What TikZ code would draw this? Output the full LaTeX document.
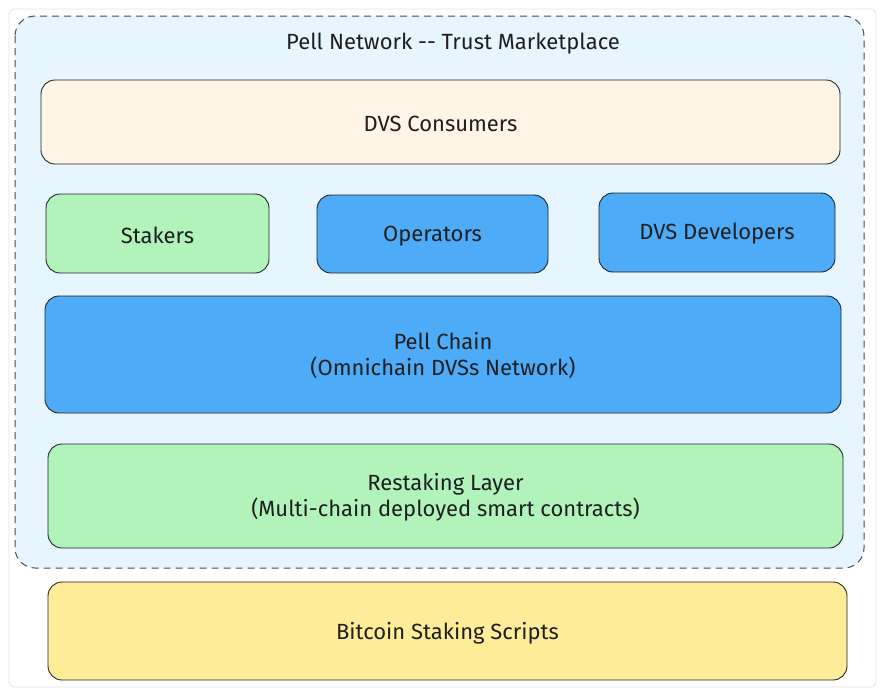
\documentclass[tikz,border=0pt]{standalone}
\usepackage{fontspec}
\setmainfont{Fira Sans}
\begin{document}
\begin{tikzpicture}[x=1pt,y=-1pt,
  box/.style={draw=black!85,line width=0.9pt,rounded corners=14pt},
  lbl/.style={font=\fontsize{22}{26}\selectfont,text=black!88,align=center,yshift=-2pt}]
\definecolor{cblue}{HTML}{4DABF7}
\definecolor{cgreen}{HTML}{B2F2BB}
\definecolor{cpeach}{HTML}{FFF4E6}
\definecolor{cyellow}{HTML}{FFEC99}
\definecolor{cbg}{HTML}{E7F5FF}
\useasboundingbox (0,0) rectangle (887,691);
\fill[white] (0,0) rectangle (887,691);
\draw[draw=black!10,line width=0.8pt,rounded corners=6pt,fill=white] (9,9) rectangle (876,687);
% container
\draw[draw=black!70,line width=1pt,dash pattern=on 7pt off 5pt,rounded corners=20pt,fill=cbg] (15,16) rectangle (864,568);
\node[lbl] (title) at (453,42) {Pell Network {-}{-} Trust Marketplace};
% boxes
\draw[box,fill=cpeach] (41,80) rectangle (840,164);
\node[lbl] (cons) at (440.5,122) {DVS Consumers};
\draw[box,fill=cgreen] (46,194) rectangle (269,273);
\node[lbl] (stak) at (157.5,233) {Stakers};
\draw[box,fill=cblue] (317,195) rectangle (548,273);
\node[lbl] (oper) at (432.5,234) {Operators};
\draw[box,fill=cblue] (599,193) rectangle (835,272);
\node[lbl] (dev) at (717,232) {DVS Developers};
\draw[box,fill=cblue] (45,296) rectangle (841,413);
\node[lbl] (pell) at (443,354) {Pell Chain\\(Omnichain DVSs Network)};
\draw[box,fill=cgreen] (48,444) rectangle (843,548);
\node[lbl] (rest) at (445.5,495) {Restaking Layer\\(Multi-chain deployed smart contracts)};
\draw[box,fill=cyellow] (48,582) rectangle (847,680);
\node[lbl] (btc) at (447.5,631) {Bitcoin Staking Scripts};
\end{tikzpicture}
\end{document}
